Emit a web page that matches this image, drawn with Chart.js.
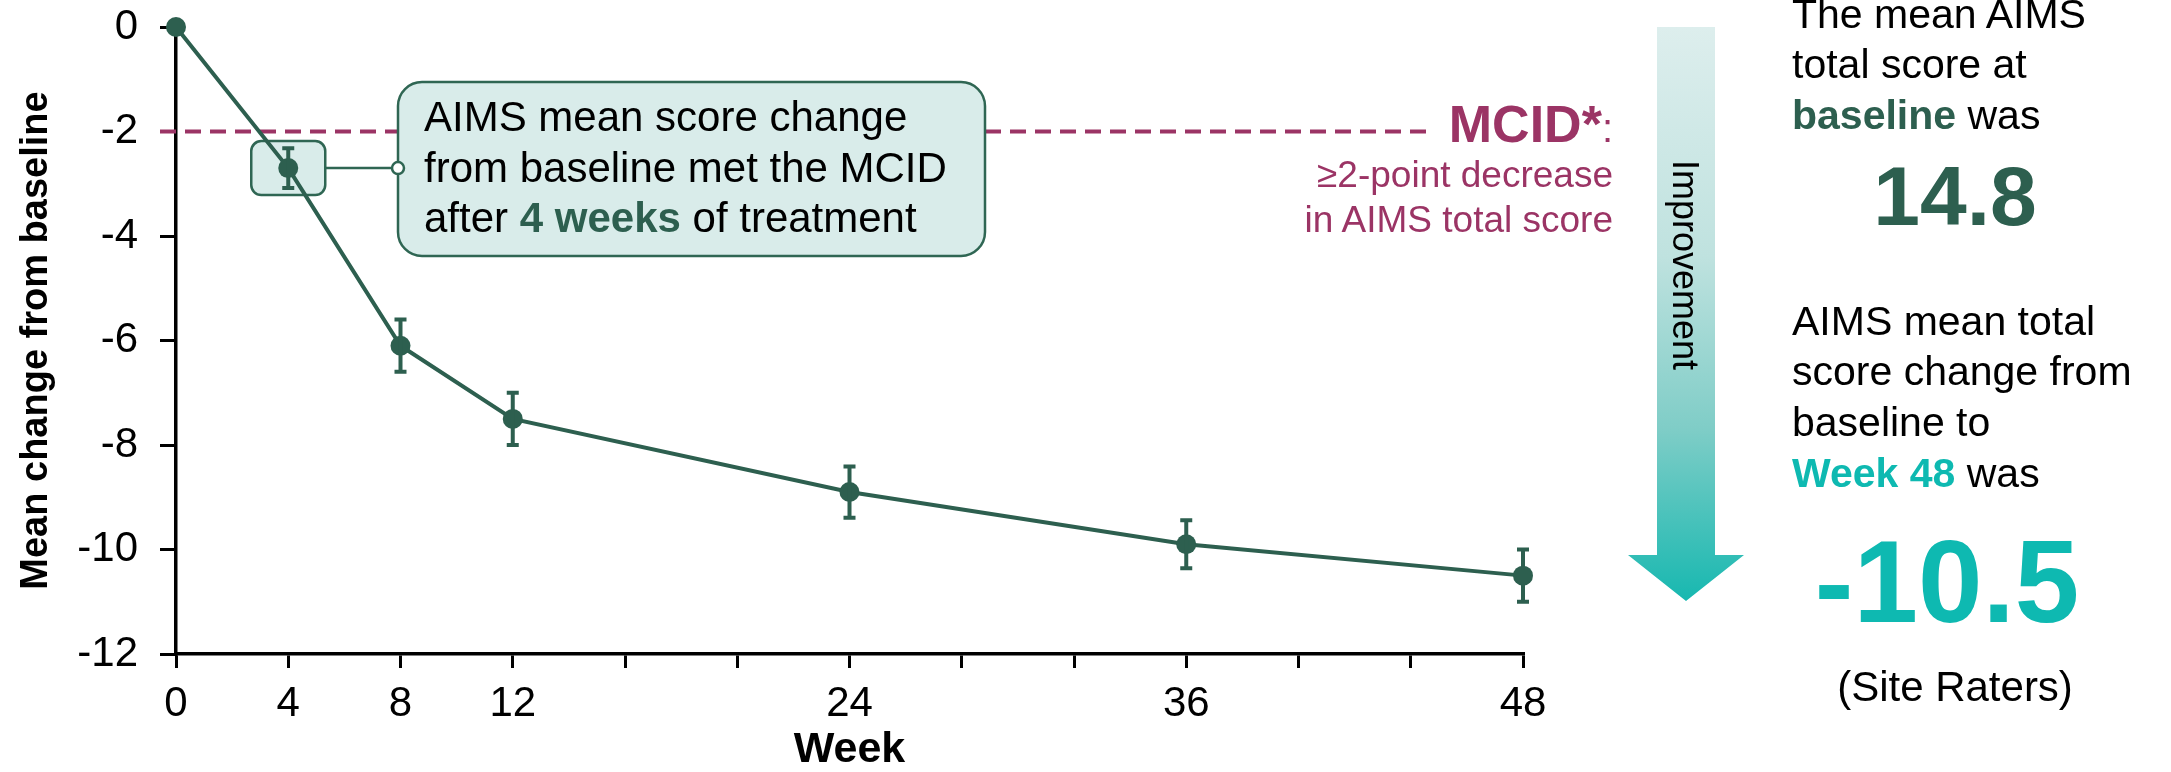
<!DOCTYPE html>
<html>
<head>
<meta charset="utf-8">
<script src="https://cdn.jsdelivr.net/npm/chart.js@4.4.1/dist/chart.umd.min.js"></script>
<style>
  html, body { margin: 0; padding: 0; background: #fff; }
  body { width: 2171px; height: 772px; position: relative; overflow: hidden;
         font-family: 'Liberation Sans', Arial, Helvetica, sans-serif; color: #000; }
  #chart { position: absolute; left: 0; top: 0; }
  .t { position: absolute; white-space: nowrap; }
  .green { color: #2D5F4F; font-weight: bold; }
  .teal { color: #0EB9B1; font-weight: bold; }
  .mcid { color: #9B3465; }
  #arrow { position: absolute; left: 1628px; top: 27px; width: 116px; height: 574px;
           background: linear-gradient(#DDEEED 0%, #BFE2DF 40%, #7FCDC7 70%, #17B8B0 100%);
           clip-path: polygon(29px 0, 87px 0, 87px 528px, 116px 528px, 58px 574px, 0 528px, 29px 528px); }
  #improve { position: absolute; left: 1667px; top: 160px; font-size: 36px; line-height: 36px;
             writing-mode: vertical-rl; white-space: nowrap; }
</style>
</head>
<body>
<canvas id="chart" width="2171" height="772"></canvas>

<!-- callout text -->
<div class="t" style="left:424px; top:92px; font-size:42px; line-height:50.5px;">
  AIMS mean score change<br>from baseline met the MCID<br>after <span class="green">4 weeks</span> of treatment
</div>

<!-- MCID label -->
<div class="t mcid" style="right:558px; top:98px; font-size:52px; line-height:52px; text-align:right;">
  <b>MCID*</b><span style="font-size:40px;">:</span>
</div>
<div class="t mcid" style="right:558px; top:152px; font-size:37px; line-height:45px; text-align:right;">
  &ge;2-point decrease<br>in AIMS total score
</div>

<!-- improvement arrow -->
<div id="arrow"></div>
<div id="improve">Improvement</div>

<!-- right panel -->
<div class="t" style="left:1792px; top:-11.5px; font-size:41px; line-height:50.5px;">
  The mean AIMS<br>total score at<br><span class="green">baseline</span> was
</div>
<div class="t green" style="left:1805px; width:300px; text-align:center; top:154px; font-size:84px; line-height:84px;">14.8</div>
<div class="t" style="left:1792px; top:295.5px; font-size:41px; line-height:50.7px;">
  AIMS mean total<br>score change from<br>baseline to<br><span class="teal">Week 48</span> was
</div>
<div class="t teal" style="left:1797px; width:300px; text-align:center; top:524px; font-size:116px; line-height:116px;">-10.5</div>
<div class="t" style="left:1805px; width:300px; text-align:center; top:666.4px; font-size:42px; line-height:42px;">(Site Raters)</div>

<script>
// ===== DATA =====
const weeks      = [0, 4, 8, 12, 24, 36, 48]
const meanChange = [0, -2.7, -6.1, -7.5, -8.9, -9.9, -10.5]
const errHalf    = [0, 0.38, 0.5, 0.5, 0.49, 0.46, 0.5]
const xLabelWeeks = [0, 4, 8, 12, 24, 36, 48]
const mcidValue  = -2
const calloutIdx = 1   // week 4 point highlighted

const C = {
  green: '#2D5F4F',
  boxFill: '#D9ECEA',
  boxLine: '#2F6653',
  mcid: '#9B3465',
}
const FONT = "'Liberation Sans', Arial, Helvetica, sans-serif"

// dashed MCID line + callout boxes, under the data line
const annotations = {
  id: 'annotations',
  beforeDatasetsDraw(chart) {
    const { ctx, scales: { x, y }, chartArea } = chart
    const my = y.getPixelForValue(mcidValue)
    ctx.save()
    ctx.strokeStyle = C.mcid
    ctx.lineWidth = 4
    ctx.setLineDash([16, 9])
    ctx.beginPath()
    ctx.moveTo(chartArea.left - 16, my)
    ctx.lineTo(x.getPixelForValue(48) - 90, my)
    ctx.stroke()
    ctx.setLineDash([])

    const px = x.getPixelForValue(weeks[calloutIdx])
    const py = y.getPixelForValue(meanChange[calloutIdx])
    ctx.fillStyle = C.boxFill
    ctx.strokeStyle = C.boxLine
    ctx.lineWidth = 2.5
    // small box round the week 4 point
    ctx.beginPath()
    ctx.roundRect(px - 37, py - 27, 74, 54, 10)
    ctx.fill(); ctx.stroke()
    // big callout
    ctx.beginPath()
    ctx.roundRect(398, 82, 587, 174, 24)
    ctx.fill(); ctx.stroke()
    // connector
    ctx.beginPath()
    ctx.moveTo(px + 37, py)
    ctx.lineTo(398, py)
    ctx.stroke()
    ctx.beginPath()
    ctx.arc(398, py, 6, 0, Math.PI * 2)
    ctx.fillStyle = '#fff'
    ctx.fill(); ctx.stroke()
    ctx.restore()
  }
}

// error bars
const errorBars = {
  id: 'errorBars',
  afterDatasetsDraw(chart) {
    const { ctx, scales: { x, y } } = chart
    ctx.save()
    ctx.strokeStyle = C.green
    ctx.lineWidth = 4
    weeks.forEach((w, i) => {
      const e = errHalf[i]
      if (!e) return
      const px = x.getPixelForValue(w)
      const top = y.getPixelForValue(meanChange[i] + e)
      const bot = y.getPixelForValue(meanChange[i] - e)
      ctx.beginPath()
      ctx.moveTo(px, top); ctx.lineTo(px, bot)
      ctx.moveTo(px - 6, top); ctx.lineTo(px + 6, top)
      ctx.moveTo(px - 6, bot); ctx.lineTo(px + 6, bot)
      ctx.stroke()
    })
    ctx.restore()
  }
}

new Chart(document.getElementById('chart'), {
  type: 'line',
  data: {
    datasets: [{
      label: 'Mean change from baseline',
      data: weeks.map((w, i) => ({ x: w, y: meanChange[i] })),
      borderColor: C.green,
      backgroundColor: C.green,
      borderWidth: 4,
      pointRadius: 10,
      pointBorderWidth: 0,
      pointBackgroundColor: C.green,
      tension: 0,
      clip: false,
    }]
  },
  options: {
    responsive: false,
    animation: false,
    devicePixelRatio: 1,
    layout: { padding: { left: 0, top: 27, right: 648, bottom: 0 } },
    plugins: { legend: { display: false }, tooltip: { enabled: false } },
    scales: {
      x: {
        type: 'linear', min: 0, max: 48,
        afterFit: s => { s.height = 118 },
        border: { display: true, color: '#000', width: 3.5 },
        grid: { display: true, drawOnChartArea: false, drawTicks: true, tickLength: 14, color: '#000', lineWidth: 3 },
        ticks: {
          stepSize: 4, autoSkip: false, maxRotation: 0, padding: 11,
          color: '#000', font: { family: FONT, size: 42 },
          callback: v => xLabelWeeks.includes(v) ? String(v) : ''
        },
        title: { display: true, text: 'Week', color: '#000', padding: { top: 0, bottom: 0 },
                 font: { family: FONT, size: 43, weight: 'bold', lineHeight: 1 } }
      },
      y: {
        min: -12, max: 0,
        afterFit: s => { s.width = 176; s.paddingTop = 0; s.paddingBottom = 0 },
        border: { display: true, color: '#000', width: 3.5 },
        grid: { display: true, drawOnChartArea: false, drawTicks: true, tickLength: 16, color: '#000', lineWidth: 3 },
        ticks: {
          stepSize: 2, padding: 22,
          color: '#000', font: { family: FONT, size: 42 },
          callback: v => String(v)
        },
        title: { display: true, text: 'Mean change from baseline', color: '#000', padding: { top: 14, bottom: 0 },
                 font: { family: FONT, size: 38, weight: 'bold', lineHeight: 1.2 } }
      }
    }
  },
  plugins: [annotations, errorBars]
})
</script>
</body>
</html>
